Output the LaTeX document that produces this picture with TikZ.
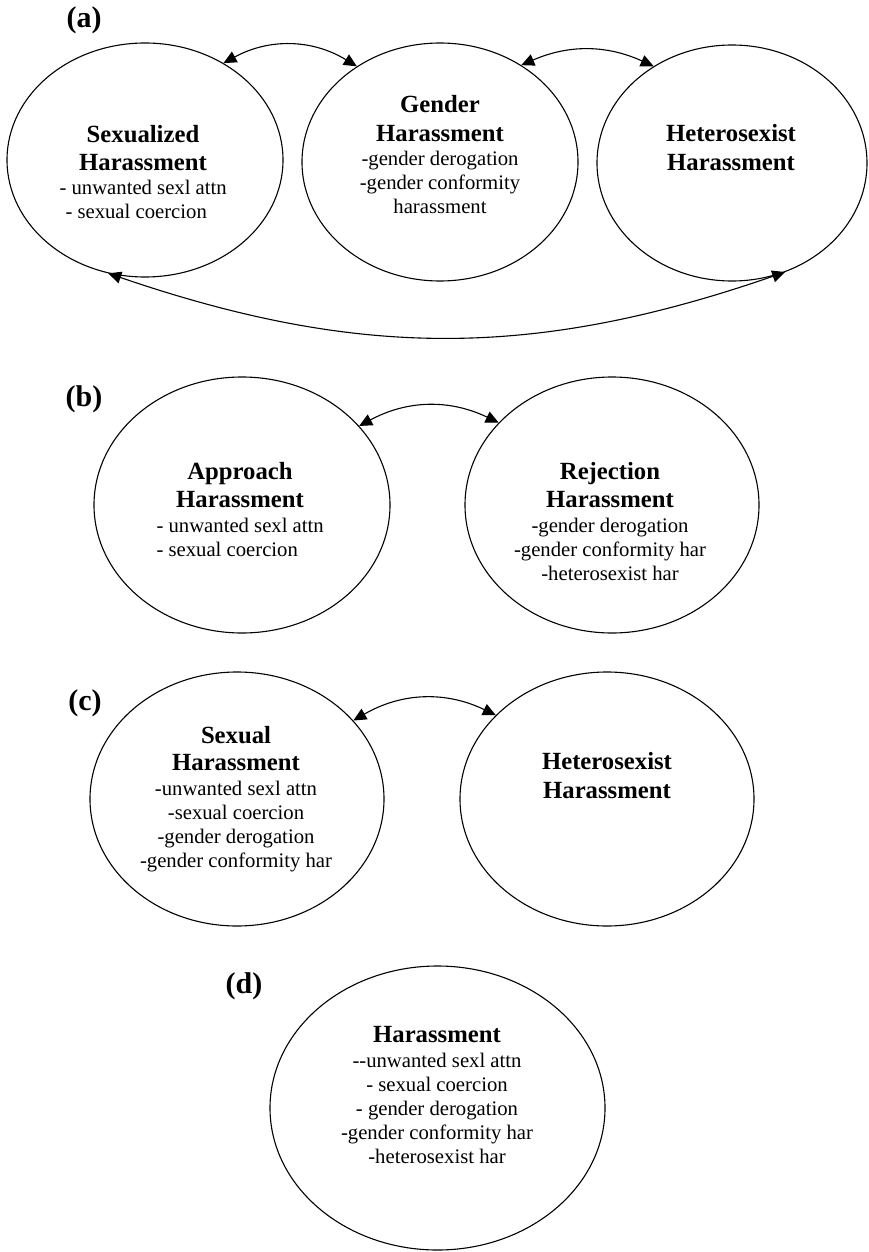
\documentclass[tikz,border=0pt]{standalone}
\usepackage{fontspec}
\setmainfont{Liberation Serif}
\usetikzlibrary{shapes.geometric,arrows.meta}
\newcommand\hd[1]{{\fontsize{24.7}{28}\selectfont\bfseries #1}}
\begin{document}
\begin{tikzpicture}[x=1pt,y=-1pt,
  oval/.style={ellipse,draw,line width=1.1pt,inner sep=0pt},
  txt/.style={anchor=base,inner sep=0pt,font=\fontsize{20.7}{24}\selectfont},
  lab/.style={anchor=base,inner sep=0pt,font=\fontsize{30}{34}\selectfont\bfseries},
  link/.style={{Triangle[length=13pt,width=12pt]}-{Triangle[length=13pt,width=12pt]},line width=1.1pt}]
\useasboundingbox (0,0) rectangle (869,1252);
% (a)
\node[lab] (la) at (84,28) {(a)};
\node[oval,minimum width=276pt,minimum height=234pt] (sx) at (145,160) {};
\node[oval,minimum width=276pt,minimum height=238pt] (gh) at (440,162) {};
\node[oval,minimum width=270pt,minimum height=236pt] (hh) at (732,163) {};
\node[txt] (sxt) at (143,143) {\begin{tabular}[t]{@{}c@{}}\hd{Sexualized}\\[4pt]\hd{Harassment}\\\makebox[167pt][l]{- unwanted sexl attn}\\\makebox[167pt][l]{\hspace{6pt}- sexual coercion}\end{tabular}};
\node[txt] (ght) at (440,113) {\begin{tabular}[t]{@{}c@{}}\hd{Gender}\\[5pt]\hd{Harassment}\\-gender derogation\\-gender conformity\\harassment\end{tabular}};
\node[txt] (hht) at (731,142) {\begin{tabular}[t]{@{}c@{}}\hd{Heterosexist}\\[5pt]\hd{Harassment}\end{tabular}};
\draw[link] (sx.51) to[bend left=30] (gh.131);
\draw[link] (gh.50) to[bend left=24] (hh.129);
\draw[link] (sx.252) to[bend right=19] (hh.296);
% (b)
\node[lab] (lb) at (84,406) {(b)};
\node[oval,minimum width=296pt,minimum height=256pt] (ap) at (242,505) {};
\node[oval,minimum width=294pt,minimum height=256pt] (rj) at (612,505) {};
\node[txt] (apt) at (240,479) {\begin{tabular}[t]{@{}c@{}}\hd{Approach}\\[4pt]\hd{Harassment}\\[1pt]\makebox[167pt][l]{- unwanted sexl attn}\\\makebox[167pt][l]{- sexual coercion}\end{tabular}};
\node[txt] (rjt) at (610,479) {\begin{tabular}[t]{@{}c@{}}\hd{Rejection}\\[4pt]\hd{Harassment}\\[1pt]-gender derogation\\-gender conformity har\\-heterosexist har\end{tabular}};
\draw[link] (ap.34) to[bend left=27] (rj.144);
% (c)
\node[lab] (lc) at (85,710) {(c)};
\node[oval,minimum width=294pt,minimum height=254pt] (sh) at (237,799) {};
\node[oval,minimum width=294pt,minimum height=254pt] (hc) at (607,799) {};
\node[txt] (sht) at (236,743) {\begin{tabular}[t]{@{}c@{}}\hd{Sexual}\\[3pt]\hd{Harassment}\\[1pt]-unwanted sexl attn\\-sexual coercion\\-gender derogation\\-gender conformity har\end{tabular}};
\node[txt] (hct) at (607,769) {\begin{tabular}[t]{@{}c@{}}\hd{Heterosexist}\\[5pt]\hd{Harassment}\end{tabular}};
\draw[link] (sh.34) to[bend left=28] (hc.143);
% (d)
\node[lab] (ld) at (244,993) {(d)};
\node[oval,minimum width=335pt,minimum height=284pt] (ha) at (437.5,1108) {};
\node[txt] (hat) at (437,1042) {\begin{tabular}[t]{@{}c@{}}\hd{Harassment}\\[1pt]-{}-unwanted sexl attn\\- sexual coercion\\- gender derogation\\-gender conformity har\\-heterosexist har\end{tabular}};
\end{tikzpicture}
\end{document}
